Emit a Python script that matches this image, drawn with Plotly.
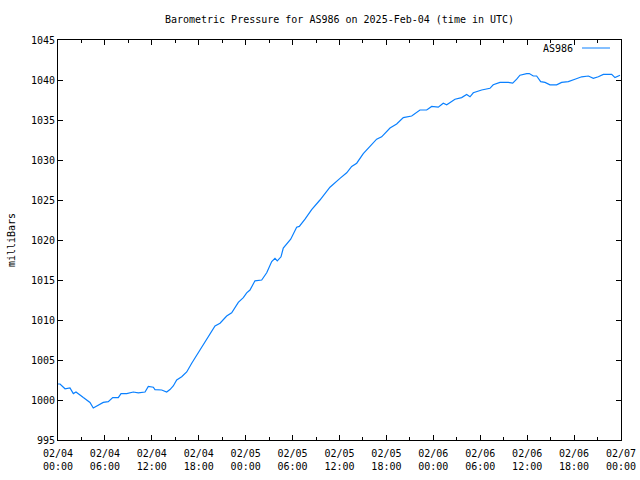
import pandas as pd
import plotly.graph_objects as go

# hours since 2025-02-04 00:00 UTC
hours = [0.0, 0.26, 0.90, 1.53, 1.96, 2.30, 3.24, 4.09, 4.51, 5.15, 5.79, 6.43, 7.00, 7.71,
         8.06, 8.79, 9.63, 10.27, 11.13, 11.55, 12.19, 12.40, 13.26, 13.90, 14.32, 14.74,
         15.18, 15.82, 16.46, 17.10, 18.16, 19.02, 20.08, 20.72, 21.57, 22.21, 23.06, 23.70,
         24.13, 24.55, 25.19, 26.05, 26.69, 27.33, 27.75, 28.04, 28.52, 28.81, 29.76, 30.52,
         30.86, 31.59, 32.44, 33.50, 34.78, 36.06, 36.92, 37.56, 38.20, 39.04, 39.90, 40.75,
         41.39, 41.82, 42.46, 43.31, 44.16, 45.23, 46.29, 47.15, 47.79, 48.63, 49.27, 49.71,
         50.77, 51.62, 52.26, 52.69, 53.11, 54.18, 55.24, 55.66, 56.52, 57.58, 58.15, 58.66,
         59.08, 59.94, 60.27, 60.78, 61.21, 61.73, 62.28, 62.92, 63.77, 64.41, 65.26, 66.11,
         66.97, 67.83, 68.46, 69.10, 69.74, 70.81, 71.23, 71.87]
pressure = [1002.0, 1002.0, 1001.4, 1001.5, 1000.8, 1001.0, 1000.3, 999.7, 999.0, 999.4,
            999.7, 999.8, 1000.3, 1000.3, 1000.8, 1000.8, 1001.0, 1000.9, 1001.0, 1001.7,
            1001.6, 1001.3, 1001.25, 1001.0, 1001.3, 1001.75, 1002.5, 1002.9, 1003.5, 1004.6,
            1006.25, 1007.7, 1009.25, 1009.6, 1010.5, 1010.9, 1012.2, 1012.8, 1013.4, 1013.75,
            1014.9, 1015.0, 1015.9, 1017.3, 1017.7, 1017.4, 1017.9, 1019.0, 1020.1, 1021.6,
            1021.7, 1022.6, 1023.8, 1025.0, 1026.6, 1027.7, 1028.4, 1029.2, 1029.6, 1030.8,
            1031.7, 1032.6, 1032.9, 1033.4, 1034.0, 1034.5, 1035.3, 1035.5, 1036.25, 1036.25,
            1036.7, 1036.6, 1037.1, 1036.9, 1037.6, 1037.8, 1038.2, 1037.9, 1038.4, 1038.75,
            1038.96, 1039.4, 1039.7, 1039.7, 1039.6, 1040.1, 1040.6, 1040.8, 1040.8, 1040.5,
            1040.5, 1039.8, 1039.7, 1039.4, 1039.4, 1039.7, 1039.8, 1040.1, 1040.4, 1040.5,
            1040.2, 1040.4, 1040.7, 1040.7, 1040.3, 1040.6]

tick_hours = [0, 6, 12, 18, 24, 30, 36, 42, 48, 54, 60, 66, 72]
tick_labels = ["02/04<br>00:00", "02/04<br>06:00", "02/04<br>12:00", "02/04<br>18:00",
               "02/05<br>00:00", "02/05<br>06:00", "02/05<br>12:00", "02/05<br>18:00",
               "02/06<br>00:00", "02/06<br>06:00", "02/06<br>12:00", "02/06<br>18:00",
               "02/07<br>00:00"]
y_ticks = [995, 1000, 1005, 1010, 1015, 1020, 1025, 1030, 1035, 1040, 1045]

start = pd.Timestamp("2025-02-04 00:00")
times = [start + pd.Timedelta(hours=h) for h in hours]
tick_times = [start + pd.Timedelta(hours=h) for h in tick_hours]

FONT = "DejaVu Sans Mono"
LINE_COLOR = "#0a80ff"

fig = go.Figure()
fig.add_trace(go.Scatter(x=times, y=pressure, mode="lines", name="AS986",
                         line=dict(color=LINE_COLOR, width=1.2), showlegend=False))

fig.update_layout(
    width=640, height=480,
    margin=dict(l=58, r=19, t=40, b=40, autoexpand=False),
    paper_bgcolor="white", plot_bgcolor="white",
    font=dict(family=FONT, size=10, color="black"),
    title=dict(text="Barometric Pressure for AS986 on 2025-Feb-04 (time in UTC)",
               x=339.5 / 640, xanchor="center", y=1 - 19 / 480, yanchor="middle",
               font=dict(family=FONT, size=10, color="black")),
    xaxis=dict(range=[start, start + pd.Timedelta(hours=72)], tickvals=tick_times,
               ticktext=tick_labels, ticks="inside", ticklen=5, tickcolor="black",
               showline=True, linecolor="black", linewidth=1, mirror="allticks",
               showgrid=False, zeroline=False, automargin=False, ticklabelstandoff=4,
               tickfont=dict(family=FONT, size=10, color="black"),
               minor=dict(dtick=3 * 3600 * 1000, tick0=start, ticks="inside",
                          ticklen=3, tickcolor="black", showgrid=False)),
    yaxis=dict(range=[995, 1045], tickvals=y_ticks, ticks="inside", ticklen=5,
               tickcolor="black", showline=True, linecolor="black", linewidth=1,
               mirror="allticks", showgrid=False, zeroline=False, automargin=False,
               tickfont=dict(family=FONT, size=10, color="black"),
               title=dict(text="milliBars", standoff=13,
                          font=dict(family=FONT, size=10, color="black"))),
)

# gnuplot-style key: text then sample line, top right inside the plot
fig.add_annotation(xref="paper", yref="paper", x=(575 - 58) / 563, y=(440 - 48) / 400,
                   text="AS986", showarrow=False, xanchor="right", yanchor="middle",
                   font=dict(family=FONT, size=10, color="black"))
fig.add_shape(type="line", xref="paper", yref="paper",
              x0=(582 - 58) / 563, x1=(610 - 58) / 563,
              y0=(440 - 48) / 400, y1=(440 - 48) / 400,
              line=dict(color=LINE_COLOR, width=1))

fig.write_html("out.html")
